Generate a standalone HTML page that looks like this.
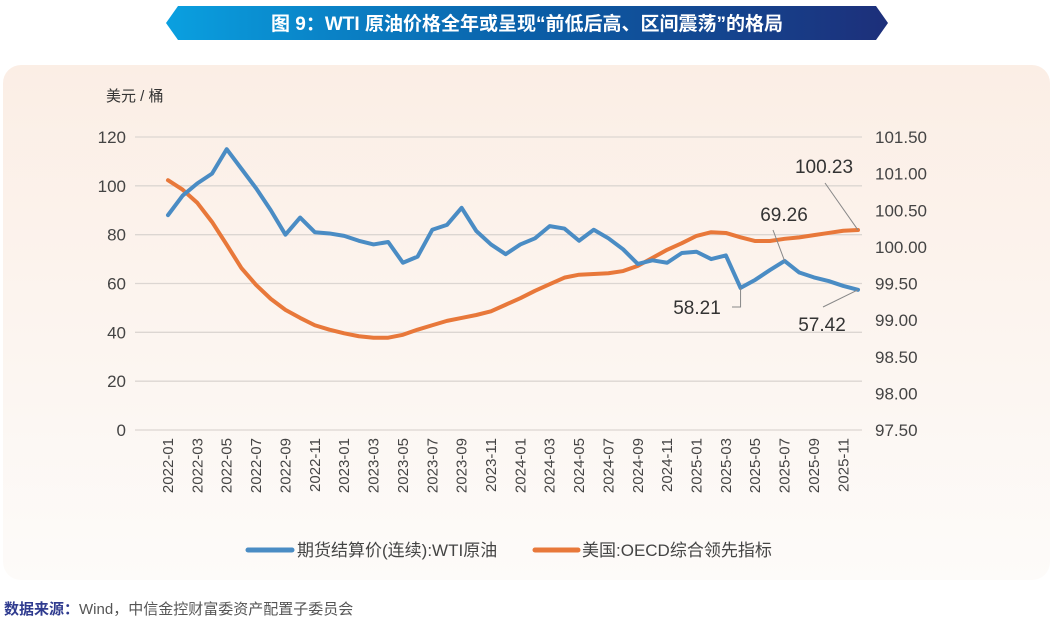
<!DOCTYPE html>
<html><head><meta charset="utf-8">
<style>
html,body{margin:0;padding:0;background:#fff;width:1062px;height:630px;overflow:hidden}
svg text{font-family:"Liberation Sans","Noto Sans CJK SC",sans-serif}
</style></head><body>
<svg id="chart" width="1062" height="630" viewBox="0 0 1062 630" xmlns="http://www.w3.org/2000/svg">
<defs>
<linearGradient id="tg" x1="0" x2="1" y1="0" y2="0"><stop offset="0" stop-color="#0aa0e0"/><stop offset="0.5" stop-color="#0a5fa8"/><stop offset="1" stop-color="#1d2f7a"/></linearGradient>
<linearGradient id="pg" x1="0" x2="0" y1="0" y2="1"><stop offset="0" stop-color="#fbeee5"/><stop offset="1" stop-color="#fdfbf9"/></linearGradient>
</defs>
<polygon points="178,6 876,6 888,23 876,40 178,40 166,23" fill="url(#tg)"/>
<text x="527" y="30" text-anchor="middle" font-size="19" font-weight="bold" fill="#fff">图 9：WTI 原油价格全年或呈现“前低后高、区间震荡”的格局</text>
<rect x="3" y="65" width="1047" height="515" rx="18" fill="url(#pg)"/>
<text x="106" y="101" font-size="15" fill="#333">美元 / 桶</text>
<g id="grid"></g><g id="marks"></g>
<g>
<line x1="248" y1="550" x2="292" y2="550" stroke="#4a8cc4" stroke-width="5" stroke-linecap="round"/>
<text x="297" y="556" font-size="17" fill="#444">期货结算价(连续):WTI原油</text>
<line x1="535" y1="550" x2="578" y2="550" stroke="#e8783a" stroke-width="5" stroke-linecap="round"/>
<text x="582" y="556" font-size="17" fill="#444">美国:OECD综合领先指标</text>
</g>
<text x="4" y="614" font-size="15" fill="#555"><tspan fill="#2f3b8f" font-weight="bold">数据来源：</tspan>Wind，中信金控财富委资产配置子委员会</text>
</svg>
<script>
const months=[];for(let y=2022;y<=2025;y++)for(let m=1;m<=12;m++)months.push(y+'-'+String(m).padStart(2,'0'));
const wti=[88,96,101,105,115,107,99,90,80,87,81,80.5,79.5,77.5,76,77,68.5,71,82,84,91,81.5,76,72,76,78.5,83.5,82.5,77.5,82,78.5,74,68,69.5,68.5,72.5,73,70,71.5,58.21,61.5,65.5,69.26,64.5,62.5,61,59,57.42];
const oecd=[100.91,100.78,100.6,100.34,100.03,99.71,99.48,99.29,99.14,99.03,98.93,98.87,98.82,98.78,98.76,98.76,98.8,98.87,98.93,98.99,99.03,99.07,99.12,99.21,99.3,99.4,99.49,99.58,99.62,99.63,99.64,99.67,99.74,99.85,99.96,100.05,100.15,100.2,100.19,100.13,100.08,100.08,100.11,100.13,100.16,100.19,100.22,100.23];
const leftTicks=[0,20,40,60,80,100,120];
const rightTicks=[97.5,98,98.5,99,99.5,100,100.5,101,101.5];
const X0=168,X1=858,YB=430,YT=137,PL=135,PR=862;
const x=i=>X0+(X1-X0)*i/(months.length-1);
const yl=v=>YB-(v-0)/(120-0)*(YB-YT);
const yr=v=>YB-(v-97.5)/(101.5-97.5)*(YB-YT);
const NS='http://www.w3.org/2000/svg';
function mk(p,t,a){const e=document.createElementNS(NS,t);for(const k in a)e.setAttribute(k,a[k]);p.appendChild(e);return e;}
const g=document.getElementById('grid'),mg=document.getElementById('marks');
leftTicks.forEach(v=>{
 const l=mk(g,'line',{x1:PL,x2:PR,y1:yl(v),y2:yl(v),stroke:'#dcd6d2','stroke-width':1.3});
 
 
 const t=mk(g,'text',{x:126,y:yl(v)+6,'text-anchor':'end','font-size':17,fill:'#444'});t.textContent=v;
 
 
});
rightTicks.forEach(v=>{
 const t=mk(g,'text',{x:875,y:yr(v)+6,'font-size':17,fill:'#444'});t.textContent=v.toFixed(2);
 
 
});
months.forEach((m,i)=>{if(i%2)return;
 const t=mk(g,'text',{x:x(i)+5,y:438,'text-anchor':'end','font-size':15,fill:'#444',transform:`rotate(-90 ${x(i)+5} 438)`});t.textContent=m;
 
 
});
const po=mk(mg,'polyline',{points:oecd.map((v,i)=>x(i)+','+yr(v)).join(' '),fill:'none',stroke:'#e8783a','stroke-width':4,'stroke-linejoin':'round','stroke-linecap':'round'});


const pw=mk(mg,'polyline',{points:wti.map((v,i)=>x(i)+','+yl(v)).join(' '),fill:'none',stroke:'#4a8cc4','stroke-width':4,'stroke-linejoin':'round','stroke-linecap':'round'});


function ann(name,i,v,yf,pts,tx,ty){
 const ax=x(i),ay=yf(v);
 const l=mk(mg,'polyline',{points:ax+','+ay+' '+pts,fill:'none',stroke:'#888','stroke-width':1});
 
 
 const t=mk(mg,'text',{x:tx,y:ty,'text-anchor':'middle','font-size':19,fill:'#333'});t.textContent=(name==='oecd-last'?oecd[i]:wti[i]).toFixed(2);
 
 
}
ann('oecd-last',47,oecd[47],yr,'825,183',824,173);
ann('wti-2025-07',42,wti[42],yl,'773,230',784,221);
ann('wti-2025-04',39,wti[39],yl,x(39)+',307 732,307',697,314);
ann('wti-last',47,wti[47],yl,'823,307',822,331);
</script>
</body></html>
